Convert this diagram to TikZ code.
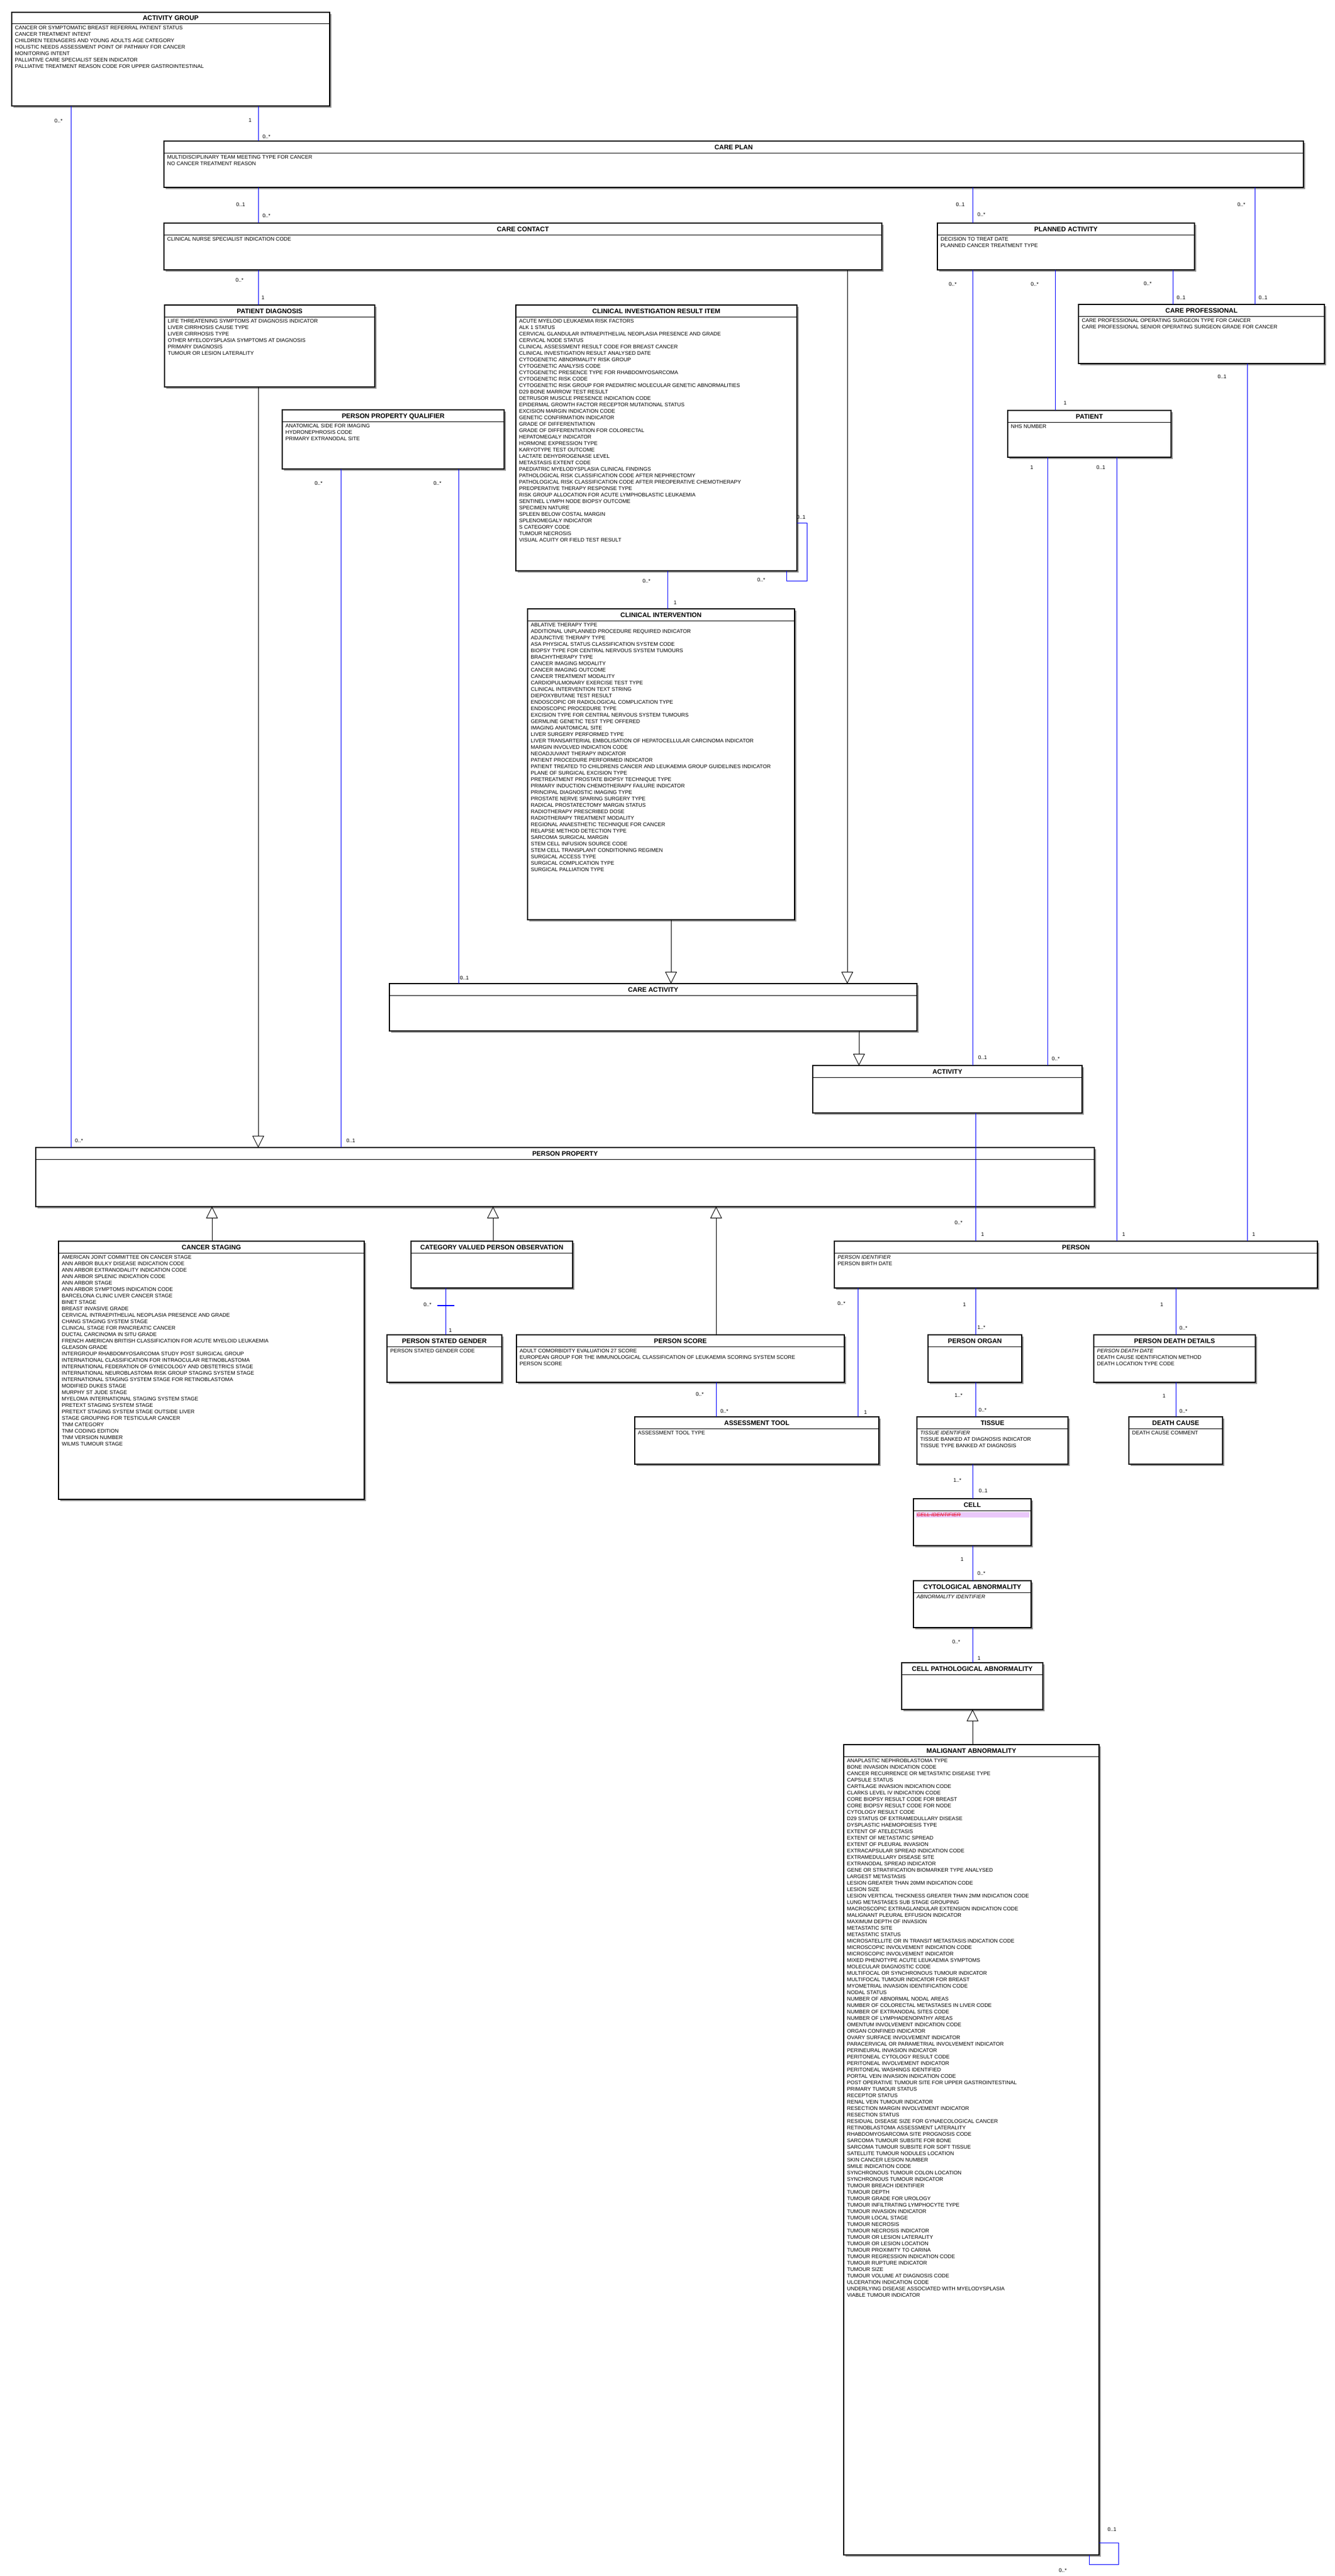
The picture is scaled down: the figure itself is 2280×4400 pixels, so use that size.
\documentclass[tikz,border=0pt]{standalone}
\usepackage{fontspec}
\setmainfont{Liberation Sans}
\usetikzlibrary{arrows.meta}
\definecolor{shadowc}{RGB}{150,150,150}
\definecolor{assocblue}{RGB}{0,0,255}
\definecolor{lavend}{RGB}{234,200,250}
\definecolor{strikered}{RGB}{235,30,60}
\tikzset{
  entbox/.style={draw=black, line width=1.2pt, fill=white, inner sep=0pt, outer sep=0pt, anchor=center},
  hdrline/.style={draw=black, line width=1pt},
  ttl/.style={anchor=base, inner sep=0pt, font=\bfseries\fontsize{11.2}{13}\selectfont},
  attr/.style={anchor=base west, inner sep=0pt, font=\fontsize{9}{11}\selectfont},
  mult/.style={anchor=center, inner sep=0pt, font=\fontsize{9}{10}\selectfont},
  assoc/.style={draw=assocblue, line width=1pt},
  gen/.style={draw=black, line width=0.9pt, -{Triangle[open, width=20pt, length=20pt, line width=0.9pt]}},
}
% #1 name, #2 x1, #3 y1, #4 x2, #5 y2, #6 title
\newcommand\ent[6]{%
  \fill[shadowc] ({#2+3},{#3+3}) rectangle ({#4+3},{#5+3});
  \node[entbox, minimum width={(#4-#2)*1pt}, minimum height={(#5-#3)*1pt}] (#1) at ({(#2+#4)/2},{(#3+#5)/2}) {};
  \draw[hdrline] (#2,{#3+20}) -- (#4,{#3+20});
  \node[ttl] (#1-t) at ({(#2+#4)/2},{#3+14}) {#6};
}
% #1 name, #2 x1, #3 y1, #4 list
\newcommand\attrs[4]{%
  \foreach \itm [count=\i] in {#4} {\node[attr] (#1-a\i) at ({#2+5.5},{#3+30+11*(\i-1)}) {\itm};}
}
\begin{document}
\begin{tikzpicture}[x=1pt, y=-1pt]
\fill[white] (0,0) rectangle (2280,4400);
\useasboundingbox (0,0) rectangle (2280,4400);

% ---------------- entities ----------------
\ent{ag}{20}{21}{563}{181}{ACTIVITY GROUP}
\attrs{ag}{20}{21}{CANCER OR SYMPTOMATIC BREAST REFERRAL PATIENT STATUS,CANCER TREATMENT INTENT,CHILDREN TEENAGERS AND YOUNG ADULTS AGE CATEGORY,HOLISTIC NEEDS ASSESSMENT POINT OF PATHWAY FOR CANCER,MONITORING INTENT,PALLIATIVE CARE SPECIALIST SEEN INDICATOR,PALLIATIVE TREATMENT REASON CODE FOR UPPER GASTROINTESTINAL}

\ent{cp}{280}{241}{2226}{320}{CARE PLAN}
\attrs{cp}{280}{241}{MULTIDISCIPLINARY TEAM MEETING TYPE FOR CANCER,NO CANCER TREATMENT REASON}

\ent{cc}{280}{381}{1506}{461}{CARE CONTACT}
\attrs{cc}{280}{381}{CLINICAL NURSE SPECIALIST INDICATION CODE}

\ent{pa}{1601}{381}{2040}{461}{PLANNED ACTIVITY}
\attrs{pa}{1601}{381}{DECISION TO TREAT DATE,PLANNED CANCER TREATMENT TYPE}

\ent{cpro}{1842}{520}{2262}{621}{CARE PROFESSIONAL}
\attrs{cpro}{1842}{520}{CARE PROFESSIONAL OPERATING SURGEON TYPE FOR CANCER,CARE PROFESSIONAL SENIOR OPERATING SURGEON GRADE FOR CANCER}

\ent{pat}{1721}{701}{2000}{781}{PATIENT}
\attrs{pat}{1721}{701}{NHS NUMBER}

\ent{pd}{281}{521}{640}{661}{PATIENT DIAGNOSIS}
\attrs{pd}{281}{521}{LIFE THREATENING SYMPTOMS AT DIAGNOSIS INDICATOR,LIVER CIRRHOSIS CAUSE TYPE,LIVER CIRRHOSIS TYPE,OTHER MYELODYSPLASIA SYMPTOMS AT DIAGNOSIS,PRIMARY DIAGNOSIS,TUMOUR OR LESION LATERALITY}

\ent{ppq}{482}{700}{861}{801}{PERSON PROPERTY QUALIFIER}
\attrs{ppq}{482}{700}{ANATOMICAL SIDE FOR IMAGING,HYDRONEPHROSIS CODE,PRIMARY EXTRANODAL SITE}

\ent{ciri}{881}{521}{1361}{975}{CLINICAL INVESTIGATION RESULT ITEM}
\attrs{ciri}{881}{521}{ACUTE MYELOID LEUKAEMIA RISK FACTORS,ALK 1 STATUS,CERVICAL GLANDULAR INTRAEPITHELIAL NEOPLASIA PRESENCE AND GRADE,CERVICAL NODE STATUS,CLINICAL ASSESSMENT RESULT CODE FOR BREAST CANCER,CLINICAL INVESTIGATION RESULT ANALYSED DATE,CYTOGENETIC ABNORMALITY RISK GROUP,CYTOGENETIC ANALYSIS CODE,CYTOGENETIC PRESENCE TYPE FOR RHABDOMYOSARCOMA,CYTOGENETIC RISK CODE,CYTOGENETIC RISK GROUP FOR PAEDIATRIC MOLECULAR GENETIC ABNORMALITIES,D29 BONE MARROW TEST RESULT,DETRUSOR MUSCLE PRESENCE INDICATION CODE,EPIDERMAL GROWTH FACTOR RECEPTOR MUTATIONAL STATUS,EXCISION MARGIN INDICATION CODE,GENETIC CONFIRMATION INDICATOR,GRADE OF DIFFERENTIATION,GRADE OF DIFFERENTIATION FOR COLORECTAL,HEPATOMEGALY INDICATOR,HORMONE EXPRESSION TYPE,KARYOTYPE TEST OUTCOME,LACTATE DEHYDROGENASE LEVEL,METASTASIS EXTENT CODE,PAEDIATRIC MYELODYSPLASIA CLINICAL FINDINGS,PATHOLOGICAL RISK CLASSIFICATION CODE AFTER NEPHRECTOMY,PATHOLOGICAL RISK CLASSIFICATION CODE AFTER PREOPERATIVE CHEMOTHERAPY,PREOPERATIVE THERAPY RESPONSE TYPE,RISK GROUP ALLOCATION FOR ACUTE LYMPHOBLASTIC LEUKAEMIA,SENTINEL LYMPH NODE BIOPSY OUTCOME,SPECIMEN NATURE,SPLEEN BELOW COSTAL MARGIN,SPLENOMEGALY INDICATOR,S CATEGORY CODE,TUMOUR NECROSIS,VISUAL ACUITY OR FIELD TEST RESULT}

\ent{ci}{901}{1040}{1357}{1571}{CLINICAL INTERVENTION}
\attrs{ci}{901}{1040}{ABLATIVE THERAPY TYPE,ADDITIONAL UNPLANNED PROCEDURE REQUIRED INDICATOR,ADJUNCTIVE THERAPY TYPE,ASA PHYSICAL STATUS CLASSIFICATION SYSTEM CODE,BIOPSY TYPE FOR CENTRAL NERVOUS SYSTEM TUMOURS,BRACHYTHERAPY TYPE,CANCER IMAGING MODALITY,CANCER IMAGING OUTCOME,CANCER TREATMENT MODALITY,CARDIOPULMONARY EXERCISE TEST TYPE,CLINICAL INTERVENTION TEXT STRING,DIEPOXYBUTANE TEST RESULT,ENDOSCOPIC OR RADIOLOGICAL COMPLICATION TYPE,ENDOSCOPIC PROCEDURE TYPE,EXCISION TYPE FOR CENTRAL NERVOUS SYSTEM TUMOURS,GERMLINE GENETIC TEST TYPE OFFERED,IMAGING ANATOMICAL SITE,LIVER SURGERY PERFORMED TYPE,LIVER TRANSARTERIAL EMBOLISATION OF HEPATOCELLULAR CARCINOMA INDICATOR,MARGIN INVOLVED INDICATION CODE,NEOADJUVANT THERAPY INDICATOR,PATIENT PROCEDURE PERFORMED INDICATOR,PATIENT TREATED TO CHILDRENS CANCER AND LEUKAEMIA GROUP GUIDELINES INDICATOR,PLANE OF SURGICAL EXCISION TYPE,PRETREATMENT PROSTATE BIOPSY TECHNIQUE TYPE,PRIMARY INDUCTION CHEMOTHERAPY FAILURE INDICATOR,PRINCIPAL DIAGNOSTIC IMAGING TYPE,PROSTATE NERVE SPARING SURGERY TYPE,RADICAL PROSTATECTOMY MARGIN STATUS,RADIOTHERAPY PRESCRIBED DOSE,RADIOTHERAPY TREATMENT MODALITY,REGIONAL ANAESTHETIC TECHNIQUE FOR CANCER,RELAPSE METHOD DETECTION TYPE,SARCOMA SURGICAL MARGIN,STEM CELL INFUSION SOURCE CODE,STEM CELL TRANSPLANT CONDITIONING REGIMEN,SURGICAL ACCESS TYPE,SURGICAL COMPLICATION TYPE,SURGICAL PALLIATION TYPE}

\ent{ca}{665}{1680}{1566}{1761}{CARE ACTIVITY}
\ent{act}{1388}{1820}{1848}{1901}{ACTIVITY}
\ent{pp}{61}{1960}{1869}{2061}{PERSON PROPERTY}

\ent{cs}{100}{2120}{622}{2561}{CANCER STAGING}
\attrs{cs}{100}{2120}{AMERICAN JOINT COMMITTEE ON CANCER STAGE,ANN ARBOR BULKY DISEASE INDICATION CODE,ANN ARBOR EXTRANODALITY INDICATION CODE,ANN ARBOR SPLENIC INDICATION CODE,ANN ARBOR STAGE,ANN ARBOR SYMPTOMS INDICATION CODE,BARCELONA CLINIC LIVER CANCER STAGE,BINET STAGE,BREAST INVASIVE GRADE,CERVICAL INTRAEPITHELIAL NEOPLASIA PRESENCE AND GRADE,CHANG STAGING SYSTEM STAGE,CLINICAL STAGE FOR PANCREATIC CANCER,DUCTAL CARCINOMA IN SITU GRADE,FRENCH AMERICAN BRITISH CLASSIFICATION FOR ACUTE MYELOID LEUKAEMIA,GLEASON GRADE,INTERGROUP RHABDOMYOSARCOMA STUDY POST SURGICAL GROUP,INTERNATIONAL CLASSIFICATION FOR INTRAOCULAR RETINOBLASTOMA,INTERNATIONAL FEDERATION OF GYNECOLOGY AND OBSTETRICS STAGE,INTERNATIONAL NEUROBLASTOMA RISK GROUP STAGING SYSTEM STAGE,INTERNATIONAL STAGING SYSTEM STAGE FOR RETINOBLASTOMA,MODIFIED DUKES STAGE,MURPHY ST JUDE STAGE,MYELOMA INTERNATIONAL STAGING SYSTEM STAGE,PRETEXT STAGING SYSTEM STAGE,PRETEXT STAGING SYSTEM STAGE OUTSIDE LIVER,STAGE GROUPING FOR TESTICULAR CANCER,TNM CATEGORY,TNM CODING EDITION,TNM VERSION NUMBER,WILMS TUMOUR STAGE}

\ent{cvpo}{702}{2120}{978}{2200}{CATEGORY VALUED PERSON OBSERVATION}
\ent{psg}{661}{2280}{857}{2361}{PERSON STATED GENDER}
\attrs{psg}{661}{2280}{PERSON STATED GENDER CODE}
\ent{ps}{882}{2280}{1442}{2361}{PERSON SCORE}
\attrs{ps}{882}{2280}{ADULT COMORBIDITY EVALUATION 27 SCORE,EUROPEAN GROUP FOR THE IMMUNOLOGICAL CLASSIFICATION OF LEUKAEMIA SCORING SYSTEM SCORE,PERSON SCORE}
\ent{at}{1084}{2420}{1501}{2501}{ASSESSMENT TOOL}
\attrs{at}{1084}{2420}{ASSESSMENT TOOL TYPE}

\ent{per}{1425}{2120}{2250}{2200}{PERSON}
\attrs{per}{1425}{2120}{{\itshape PERSON IDENTIFIER},PERSON BIRTH DATE}
\ent{po}{1585}{2280}{1745}{2361}{PERSON ORGAN}
\ent{tis}{1566}{2420}{1824}{2501}{TISSUE}
\attrs{tis}{1566}{2420}{{\itshape TISSUE IDENTIFIER},TISSUE BANKED AT DIAGNOSIS INDICATOR,TISSUE TYPE BANKED AT DIAGNOSIS}
\ent{pdd}{1868}{2280}{2144}{2361}{PERSON DEATH DETAILS}
\attrs{pdd}{1868}{2280}{{\itshape PERSON DEATH DATE},DEATH CAUSE IDENTIFICATION METHOD,DEATH LOCATION TYPE CODE}
\ent{dc}{1928}{2420}{2088}{2501}{DEATH CAUSE}
\attrs{dc}{1928}{2420}{DEATH CAUSE COMMENT}

\ent{cell}{1560}{2560}{1761}{2640}{CELL}
\fill[lavend] (1564,2583) rectangle (1758,2592);
\node[attr, text=strikered] (cell-a1) at (1565.5,2590) {\itshape CELL IDENTIFIER};
\draw[strikered, line width=0.8pt] ([yshift=2.6pt]cell-a1.base west) -- ([yshift=2.6pt]cell-a1.base east);

\ent{cyt}{1560}{2700}{1761}{2780}{CYTOLOGICAL ABNORMALITY}
\attrs{cyt}{1560}{2700}{{\itshape ABNORMALITY IDENTIFIER}}
\ent{cpa}{1540}{2840}{1781}{2920}{CELL PATHOLOGICAL ABNORMALITY}

\ent{mal}{1441}{2980}{1877}{4364}{MALIGNANT ABNORMALITY}
\attrs{mal}{1441}{2980}{ANAPLASTIC NEPHROBLASTOMA TYPE,BONE INVASION INDICATION CODE,CANCER RECURRENCE OR METASTATIC DISEASE TYPE,CAPSULE STATUS,CARTILAGE INVASION INDICATION CODE,CLARKS LEVEL IV INDICATION CODE,CORE BIOPSY RESULT CODE FOR BREAST,CORE BIOPSY RESULT CODE FOR NODE,CYTOLOGY RESULT CODE,D29 STATUS OF EXTRAMEDULLARY DISEASE,DYSPLASTIC HAEMOPOIESIS TYPE,EXTENT OF ATELECTASIS,EXTENT OF METASTATIC SPREAD,EXTENT OF PLEURAL INVASION,EXTRACAPSULAR SPREAD INDICATION CODE,EXTRAMEDULLARY DISEASE SITE,EXTRANODAL SPREAD INDICATOR,GENE OR STRATIFICATION BIOMARKER TYPE ANALYSED,LARGEST METASTASIS,LESION GREATER THAN 20MM INDICATION CODE,LESION SIZE,LESION VERTICAL THICKNESS GREATER THAN 2MM INDICATION CODE,LUNG METASTASES SUB STAGE GROUPING,MACROSCOPIC EXTRAGLANDULAR EXTENSION INDICATION CODE,MALIGNANT PLEURAL EFFUSION INDICATOR,MAXIMUM DEPTH OF INVASION,METASTATIC SITE,METASTATIC STATUS,MICROSATELLITE OR IN TRANSIT METASTASIS INDICATION CODE,MICROSCOPIC INVOLVEMENT INDICATION CODE,MICROSCOPIC INVOLVEMENT INDICATOR,MIXED PHENOTYPE ACUTE LEUKAEMIA SYMPTOMS,MOLECULAR DIAGNOSTIC CODE,MULTIFOCAL OR SYNCHRONOUS TUMOUR INDICATOR,MULTIFOCAL TUMOUR INDICATOR FOR BREAST,MYOMETRIAL INVASION IDENTIFICATION CODE,NODAL STATUS,NUMBER OF ABNORMAL NODAL AREAS,NUMBER OF COLORECTAL METASTASES IN LIVER CODE,NUMBER OF EXTRANODAL SITES CODE,NUMBER OF LYMPHADENOPATHY AREAS,OMENTUM INVOLVEMENT INDICATION CODE,ORGAN CONFINED INDICATOR,OVARY SURFACE INVOLVEMENT INDICATOR,PARACERVICAL OR PARAMETRIAL INVOLVEMENT INDICATOR,PERINEURAL INVASION INDICATOR,PERITONEAL CYTOLOGY RESULT CODE,PERITONEAL INVOLVEMENT INDICATOR,PERITONEAL WASHINGS IDENTIFIED,PORTAL VEIN INVASION INDICATION CODE,POST OPERATIVE TUMOUR SITE FOR UPPER GASTROINTESTINAL,PRIMARY TUMOUR STATUS,RECEPTOR STATUS,RENAL VEIN TUMOUR INDICATOR,RESECTION MARGIN INVOLVEMENT INDICATOR,RESECTION STATUS,RESIDUAL DISEASE SIZE FOR GYNAECOLOGICAL CANCER,RETINOBLASTOMA ASSESSMENT LATERALITY,RHABDOMYOSARCOMA SITE PROGNOSIS CODE,SARCOMA TUMOUR SUBSITE FOR BONE,SARCOMA TUMOUR SUBSITE FOR SOFT TISSUE,SATELLITE TUMOUR NODULES LOCATION,SKIN CANCER LESION NUMBER,SMILE INDICATION CODE,SYNCHRONOUS TUMOUR COLON LOCATION,SYNCHRONOUS TUMOUR INDICATOR,TUMOUR BREACH IDENTIFIER,TUMOUR DEPTH,TUMOUR GRADE FOR UROLOGY,TUMOUR INFILTRATING LYMPHOCYTE TYPE,TUMOUR INVASION INDICATOR,TUMOUR LOCAL STAGE,TUMOUR NECROSIS,TUMOUR NECROSIS INDICATOR,TUMOUR OR LESION LATERALITY,TUMOUR OR LESION LOCATION,TUMOUR PROXIMITY TO CARINA,TUMOUR REGRESSION INDICATION CODE,TUMOUR RUPTURE INDICATOR,TUMOUR SIZE,TUMOUR VOLUME AT DIAGNOSIS CODE,ULCERATION INDICATION CODE,UNDERLYING DISEASE ASSOCIATED WITH MYELODYSPLASIA,VIABLE TUMOUR INDICATOR}

% ---------------- associations ----------------
\draw[assoc] (ag.south -| 121,0) -- (pp.north -| 121,0);
\node[mult] (m1) at (100,206) {0..*};
\node[mult] (m2) at (135,1948) {0..*};

\draw[assoc] (ag.south -| 441,0) -- (cp.north -| 441,0);
\node[mult] (m3) at (427,205) {1};
\node[mult] (m4) at (455,233) {0..*};

\draw[assoc] (cp.south -| 441,0) -- (cc.north -| 441,0);
\node[mult] (m5) at (411,349) {0..1};
\node[mult] (m6) at (455,368) {0..*};

\draw[assoc] (cc.south -| 441,0) -- (pd.north -| 441,0);
\node[mult] (m7) at (409,478) {0..*};
\node[mult] (m8) at (449,508) {1};

\draw[assoc] (cp.south -| 1661,0) -- (pa.north -| 1661,0);
\node[mult] (m9) at (1640,349) {0..1};
\node[mult] (m10) at (1676,366) {0..*};

\draw[assoc] (cp.south -| 2143,0) -- (cpro.north -| 2143,0);
\node[mult] (m11) at (2120,349) {0..*};
\node[mult] (m12) at (2157,508) {0..1};

\draw[assoc] (pa.south -| 2003,0) -- (cpro.north -| 2003,0);
\node[mult] (m13) at (1960,484) {0..*};
\node[mult] (m14) at (2017,508) {0..1};

\draw[assoc] (pa.south -| 1802,0) -- (pat.north -| 1802,0);
\node[mult] (m15) at (1767,485) {0..*};
\node[mult] (m16) at (1819,688) {1};

\draw[assoc] (pa.south -| 1661,0) -- (act.north -| 1661,0);
\node[mult] (m17) at (1627,485) {0..*};
\node[mult] (m18) at (1678,1806) {0..1};

\draw[assoc] (pat.south -| 1789,0) -- (act.north -| 1789,0);
\node[mult] (m19) at (1762,798) {1};
\node[mult] (m20) at (1803,1808) {0..*};

\draw[assoc] (pat.south -| 1907,0) -- (per.north -| 1907,0);
\node[mult] (m21) at (1880,798) {0..1};
\node[mult] (m22) at (1919,2108) {1};

\draw[assoc] (act.south -| 1666,0) -- (per.north -| 1666,0);
\node[mult] (m23) at (1637,2088) {0..*};
\node[mult] (m24) at (1678,2108) {1};

\draw[assoc] (cpro.south -| 2130,0) -- (per.north -| 2130,0);
\node[mult] (m25) at (2087,643) {0..1};
\node[mult] (m26) at (2141,2108) {1};

\draw[assoc] (ppq.south -| 582,0) -- (pp.north -| 582,0);
\node[mult] (m27) at (544,825) {0..*};
\node[mult] (m28) at (599,1948) {0..1};

\draw[assoc] (ppq.south -| 783,0) -- (ca.north -| 783,0);
\node[mult] (m29) at (747,825) {0..*};
\node[mult] (m30) at (793,1670) {0..1};

\draw[assoc] (ciri.south -| 1140,0) -- (ci.north -| 1140,0);
\node[mult] (m31) at (1104,992) {0..*};
\node[mult] (m32) at (1153,1029) {1};

\draw[assoc] (ciri.east |- 0,893) -- (1378,893) -- (1378,992) -- (1343,992) -- (ciri.south -| 1343,0);
\node[mult] (m33) at (1368,883) {0..1};
\node[mult] (m34) at (1300,990) {0..*};

\draw[assoc] (cvpo.south -| 761,0) -- (psg.north -| 761,0);
\draw[assocblue, line width=1.6pt] (747,2230) -- (776,2230);
\node[mult] (m35) at (730,2228) {0..*};
\node[mult] (m36) at (769,2272) {1};

\draw[assoc] (ps.south -| 1223,0) -- (at.north -| 1223,0);
\node[mult] (m37) at (1195,2381) {0..*};
\node[mult] (m38) at (1237,2410) {0..*};

\draw[assoc] (per.south -| 1465,0) -- (at.north -| 1465,0);
\node[mult] (m39) at (1437,2226) {0..*};
\node[mult] (m40) at (1478,2412) {1};

\draw[assoc] (per.south -| 1666,0) -- (po.north -| 1666,0);
\node[mult] (m41) at (1647,2228) {1};
\node[mult] (m42) at (1676,2267) {1..*};

\draw[assoc] (po.south -| 1666,0) -- (tis.north -| 1666,0);
\node[mult] (m43) at (1637,2383) {1..*};
\node[mult] (m44) at (1678,2408) {0..*};

\draw[assoc] (per.south -| 2008,0) -- (pdd.north -| 2008,0);
\node[mult] (m45) at (1984,2228) {1};
\node[mult] (m46) at (2021,2268) {0..*};

\draw[assoc] (pdd.south -| 2008,0) -- (dc.north -| 2008,0);
\node[mult] (m47) at (1988,2384) {1};
\node[mult] (m48) at (2021,2410) {0..*};

\draw[assoc] (tis.south -| 1661,0) -- (cell.north -| 1661,0);
\node[mult] (m49) at (1635,2528) {1..*};
\node[mult] (m50) at (1679,2546) {0..1};

\draw[assoc] (cell.south -| 1661,0) -- (cyt.north -| 1661,0);
\node[mult] (m51) at (1643,2663) {1};
\node[mult] (m52) at (1676,2687) {0..*};

\draw[assoc] (cyt.south -| 1661,0) -- (cpa.north -| 1661,0);
\node[mult] (m53) at (1633,2804) {0..*};
\node[mult] (m54) at (1672,2832) {1};

\draw[assoc] (mal.east |- 0,4343) -- (1910,4343) -- (1910,4380) -- (1860,4380) -- (mal.south -| 1860,0);
\node[mult] (m55) at (1899,4320) {0..1};
\node[mult] (m56) at (1815,4390) {0..*};

% ---------------- generalisations ----------------
\draw[gen] (pd.south -| 441,0) -- (pp.north -| 441,0);
\draw[gen] (ci.south -| 1146,0) -- (ca.north -| 1146,0);
\draw[gen] (cc.south -| 1447,0) -- (ca.north -| 1447,0);
\draw[gen] (ca.south -| 1467,0) -- (act.north -| 1467,0);
\draw[gen] (cs.north -| 362,0) -- (pp.south -| 362,0);
\draw[gen] (cvpo.north -| 842,0) -- (pp.south -| 842,0);
\draw[gen] (ps.north -| 1223,0) -- (pp.south -| 1223,0);
\draw[gen] (mal.north -| 1661,0) -- (cpa.south -| 1661,0);
\end{tikzpicture}
\end{document}
